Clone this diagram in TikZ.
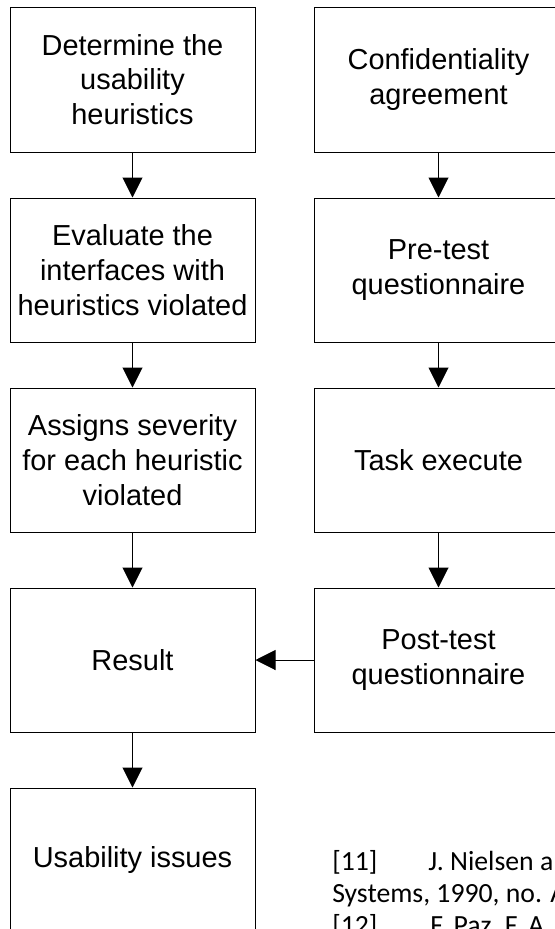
\documentclass[tikz,border=0pt]{standalone}
\usepackage{fontspec}
\setmainfont{Liberation Sans}
\newfontfamily\carlito{Carlito}
\usetikzlibrary{arrows.meta, positioning, calc, }
\tikzset{
  caixa/.style={draw, line width=0.75pt, minimum width=#1, minimum height=108pt,
    inner sep=0pt, align=center, font=\fontsize{21.7}{26}\selectfont},
  seta/.style={line width=0.75pt, -{Triangle[length=15pt, width=15pt]}},
  refer/.style={anchor=base west, inner sep=0pt, font=\carlito\fontsize{20.8}{24}\selectfont},
}

\begin{document}
\begin{tikzpicture}[x=0.75pt, y=-0.75pt]

    \useasboundingbox (0, 0) rectangle (555, 929);

    \pgfmathsetmacro{\xe}{132.5}   % coluna da esquerda
    \pgfmathsetmacro{\xd}{438.5}   % coluna da direita
    \pgfmathsetmacro{\le}{183.75}
    \pgfmathsetmacro{\ld}{186.75}

    % coluna da esquerda
    \node[caixa=\le pt, minimum height=108.75pt] (heur) at (\xe, 79.5) {Determine the\\usability\\heuristics};
    \node[caixa=\le pt] (aval) at (\xe, 270) {Evaluate the\\interfaces with\\heuristics violated};
    \node[caixa=\le pt] (sev)  at (\xe, 460) {Assigns severity\\for each heuristic\\violated};
    \node[caixa=\le pt] (res)  at (\xe, 660) {Result};
    \node[caixa=\le pt] (prob) at (\xe, 860) {Usability issues};

    % coluna da direita
    \node[caixa=\ld pt, minimum height=108.75pt] (conf) at (\xd, 79.5) {Confidentiality\\agreement};
    \node[caixa=\ld pt] (pre)  at (\xd, 270) {Pre-test\\questionnaire};
    \node[caixa=\ld pt] (task) at (\xd, 460) {Task execute};
    \node[caixa=\ld pt] (pos)  at (\xd, 660) {Post-test\\questionnaire};

    \draw[seta] (heur) -- (aval);
    \draw[seta] (aval) -- (sev);
    \draw[seta] (sev) -- (res);
    \draw[seta] (res) -- (prob);

    \draw[seta] (conf) -- (pre);
    \draw[seta] (pre) -- (task);
    \draw[seta] (task) -- (pos);
    \draw[seta] (pos) -- (res);

    % texto das referencias
    \node[refer] (r11) at (332, 870) {[11]};
    \node[refer] (niel) at (428, 870) {J. Nielsen a};
    \node[refer] (sist) at (332, 902) {Systems, 1990, no. A};
    \node[refer] (r12) at (332, 934) {[12]};
    \node[refer] (paz) at (430, 934) {F. Paz, F. A};

\end{tikzpicture}
\end{document}
